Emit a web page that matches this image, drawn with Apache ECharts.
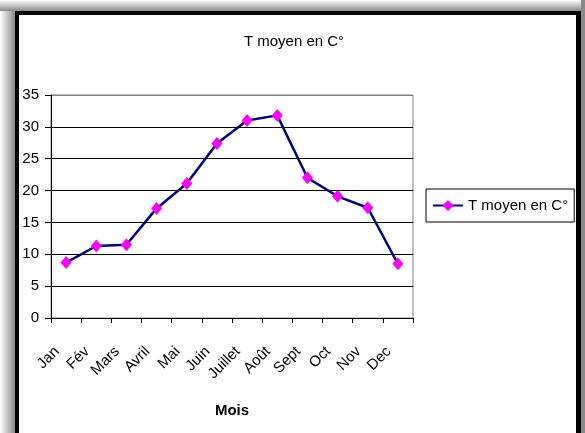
<!DOCTYPE html>
<html>
<head>
<meta charset="utf-8">
<script src="https://cdn.jsdelivr.net/npm/echarts@6/dist/echarts.min.js"></script>
<style>
    body { margin: 0; background: #fff; }
    .wrap { position: relative; width: 585px; height: 433px; overflow: hidden; }
    .shadow-left { position: absolute; left: 0; top: 0; width: 15px; height: 433px;
        background: linear-gradient(to right, #fff, #8a8a8a); }
    .shadow-top { position: absolute; left: 0; top: 0; width: 585px; height: 11px;
        background: linear-gradient(to bottom, #fff, #8a8a8a); }
    .shadow-right { position: absolute; left: 581px; top: 0; width: 4px; height: 433px; background: #8a8a8a; }
    .frame { position: absolute; left: 15px; top: 11px; width: 557px; height: 440px;
        border-left: 4px solid #000; border-top: 4px solid #000; border-right: 5px solid #000; background: #fff; }
    #chart { position: absolute; left: 0; top: 0; width: 585px; height: 433px; }
</style>
</head>
<body>
<div class="wrap">
    <div class="shadow-left"></div>
    <div class="shadow-top"></div>
    <div class="shadow-right"></div>
    <div class="frame"></div>
    <div id="chart"></div>
</div>
<script>
const months = ['Jan', 'Fév', 'Mars', 'Avril', 'Mai', 'Juin', 'Juillet', 'Août', 'Sept', 'Oct', 'Nov', 'Dec'];
const tMoyen = [8.7, 11.3, 11.5, 17.2, 21.1, 27.4, 31.0, 31.8, 22.0, 19.1, 17.3, 8.5];
const seriesName = 'T moyen en C°';

const font = "'Liberation Sans', Arial, sans-serif";
const myChart = echarts.init(document.getElementById('chart'));

const option = {
    animation: false,
    title: {
        text: seriesName,
        left: 289,
        top: 29,
        textAlign: 'center',
        textStyle: { fontFamily: font, fontSize: 15, fontWeight: 'normal', color: '#000' }
    },
    legend: {
        data: [seriesName],
        left: 426,
        top: 189,
        orient: 'vertical',
        backgroundColor: '#fff',
        borderColor: '#000',
        borderWidth: 1,
        borderRadius: 0,
        padding: [9, 6, 9, 6],
        itemWidth: 30,
        itemHeight: 14,
        itemGap: 0,
        textStyle: { fontFamily: font, fontSize: 15, color: '#000' }
    },
    grid: {
        left: 51,
        right: 172,
        top: 95,
        bottom: 115,
        show: true,
        borderColor: '#808080',
        borderWidth: 1
    },
    xAxis: {
        type: 'category',
        data: months,
        boundaryGap: true,
        name: 'Mois',
        nameLocation: 'middle',
        nameGap: 85,
        nameTextStyle: { fontFamily: font, fontSize: 15, fontWeight: 'bold', color: '#000' },
        axisLine: { lineStyle: { color: '#000', width: 1 } },
        axisTick: { show: true, length: 5, lineStyle: { color: '#000' } },
        axisLabel: {
            rotate: 45,
            margin: 22,
            interval: 0,
            padding: [0, 13, 0, 0],
            fontFamily: font,
            fontSize: 15,
            color: '#000'
        }
    },
    yAxis: {
        type: 'value',
        min: 0,
        max: 35,
        interval: 5,
        axisLine: { show: true, lineStyle: { color: '#000', width: 1 } },
        axisTick: { show: true, length: 6, lineStyle: { color: '#000' } },
        axisLabel: { margin: 12, fontFamily: font, fontSize: 15, color: '#000' },
        splitLine: {
            show: true,
            lineStyle: {
                color: ['#000', '#000', '#000', '#000', '#000', '#000', '#000', '#808080'],
                width: 1
            }
        }
    },
    series: [
        {
            name: seriesName,
            type: 'line',
            data: tMoyen,
            symbol: 'diamond',
            symbolSize: [11, 13],
            lineStyle: { color: '#000080', width: 2.5 },
            itemStyle: { color: '#ff00ff', borderWidth: 0 }
        }
    ]
};
myChart.setOption(option);
</script>
</body>
</html>
